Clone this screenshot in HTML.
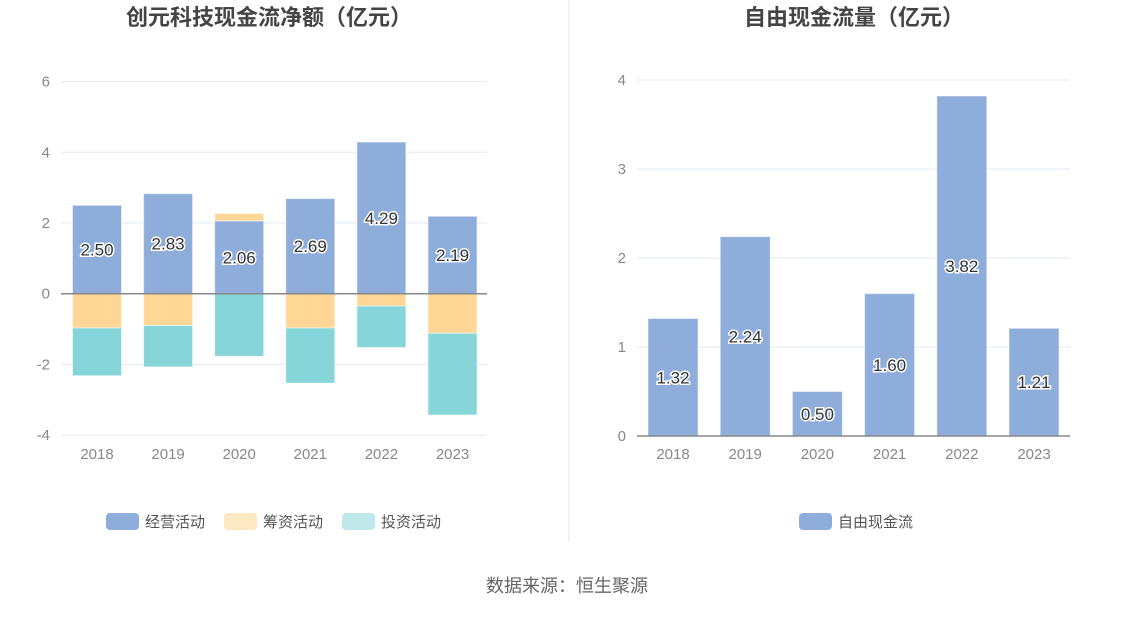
<!DOCTYPE html>
<html><head><meta charset="utf-8"><style>
body{margin:0;background:#fff;}
svg text{font-family:"Liberation Sans","Noto Sans CJK SC",sans-serif;}
</style></head><body>
<svg id="s" width="1134" height="612" xmlns="http://www.w3.org/2000/svg">
<text x="269" y="25" text-anchor="middle" font-size="22" font-weight="bold" fill="#444">创元科技现金流净额（亿元）</text>
<text x="854" y="25" text-anchor="middle" font-size="22" font-weight="bold" fill="#444">自由现金流量（亿元）</text>
<line x1="569" y1="0" x2="569" y2="542" stroke="#e8e8e8"/>
<g id="L"></g>
<g id="R"></g>
<g>
<rect x="106" y="513" width="33" height="17" rx="4" fill="#8eaddb"/>
<text x="145" y="527" font-size="15" fill="#555">经营活动</text>
<rect x="224" y="513" width="33" height="17" rx="4" fill="#fde8c4"/>
<text x="263" y="527" font-size="15" fill="#555">筹资活动</text>
<rect x="342" y="513" width="33" height="17" rx="4" fill="#c0e8ea"/>
<text x="381" y="527" font-size="15" fill="#555">投资活动</text>
</g>
<g>
<rect x="799" y="513" width="33" height="17" rx="4" fill="#8eaddb"/>
<text x="838" y="527" font-size="15" fill="#555">自由现金流</text>
</g>
<text x="567" y="592" text-anchor="middle" font-size="18" fill="#666">数据来源：恒生聚源</text>
</svg>
<script>
const years=['2018','2019','2020','2021','2022','2023'];
const operating=[2.50,2.83,2.06,2.69,4.29,2.19];
const financing=[-0.97,-0.90,0.21,-0.97,-0.35,-1.12];
const investing=[-1.35,-1.17,-1.77,-1.56,-1.17,-2.31];
const leftTicks=[6,4,2,0,-2,-4];
const fcf=[1.32,2.24,0.50,1.60,3.82,1.21];
const rightTicks=[4,3,2,1,0];
const NS='http://www.w3.org/2000/svg';
function mk(p,t,a,txt){const e=document.createElementNS(NS,t);for(const k in a)e.setAttribute(k,a[k]);if(txt!==undefined)e.textContent=txt;p.appendChild(e);return e;}
// left
const L=document.getElementById('L');
const ly=v=>293.7-v*35.35;const lx0=61,lstep=71.1,bw=49;
leftTicks.forEach(t=>{
 if(t!==0){const g=mk(L,'line',{x1:61,x2:487,y1:ly(t),y2:ly(t),stroke:'#e3e8f2'});}
 const tx=mk(L,'text',{x:50,y:ly(t)+5,'text-anchor':'end','font-size':15,fill:'#888'},String(t));
 
});
function lbar(v,base){
 const y1=ly(base),y2=ly(base+v);
 return [Math.min(y1,y2),Math.abs(y1-y2)];
}
years.forEach((yr,i)=>{
 const x=lx0+lstep*i+11.5;
 const segs=[];
 segs.push([operating[i],0,'#8eaddb','bar-operating']);
 let pos=operating[i],neg=0;
 if(financing[i]>=0){segs.push([financing[i],pos,'#fed796','bar-financing']);pos+=financing[i];}else{segs.push([financing[i],neg,'#fed796','bar-financing']);neg+=financing[i];}
 if(investing[i]>=0){segs.push([investing[i],pos,'#86d5d8','bar-investing']);}else{segs.push([investing[i],neg,'#86d5d8','bar-investing']);}
 segs.forEach(s=>{const b=lbar(s[0],s[1]);const r=mk(L,'rect',{x:x,y:b[0],width:bw,height:b[1],fill:s[2],stroke:'rgba(255,255,255,0.5)'});
  });
 const lb=mk(L,'text',{x:x+bw/2,y:ly(operating[i]/2)+6,'text-anchor':'middle','font-size':17,fill:'#333',stroke:'#fff','stroke-width':3,'paint-order':'stroke'},operating[i].toFixed(2));
 
 const xl=mk(L,'text',{x:x+bw/2,y:459,'text-anchor':'middle','font-size':15,fill:'#888'},yr);
 
});
const z=mk(L,'line',{x1:61,x2:487,y1:ly(0),y2:ly(0),stroke:'#888','stroke-width':1.5});

// right
const R=document.getElementById('R');
const ry=v=>436-v*89;const rx0=637,rstep=72.2;
rightTicks.forEach(t=>{
 if(t!==0){const g=mk(R,'line',{x1:637,x2:1070,y1:ry(t),y2:ry(t),stroke:'#e3e8f2'});}
 const tx=mk(R,'text',{x:626,y:ry(t)+5,'text-anchor':'end','font-size':15,fill:'#888'},String(t));
 
});
years.forEach((yr,i)=>{
 const x=rx0+rstep*i+11;
 const r=mk(R,'rect',{x:x,y:ry(fcf[i]),width:50,height:ry(0)-ry(fcf[i]),fill:'#8eaddb',stroke:'rgba(255,255,255,0.5)'});
 
 const lb=mk(R,'text',{x:x+25,y:ry(fcf[i]/2)+6,'text-anchor':'middle','font-size':17,fill:'#333',stroke:'#fff','stroke-width':3,'paint-order':'stroke'},fcf[i].toFixed(2));
 
 const xl=mk(R,'text',{x:x+25,y:459,'text-anchor':'middle','font-size':15,fill:'#888'},yr);
 
});
const rz=mk(R,'line',{x1:637,x2:1070,y1:ry(0),y2:ry(0),stroke:'#888','stroke-width':1.5});

</script>
</body></html>
